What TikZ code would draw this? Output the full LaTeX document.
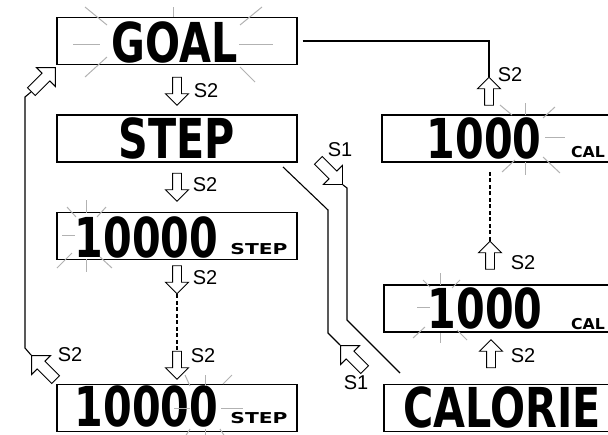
\documentclass[tikz,border=0pt]{standalone}
\usepackage{fontspec}
\usepackage{tikz}
\usetikzlibrary{shapes.arrows}
\newfontfamily\lcdfont[FakeStretch=0.75]{DejaVu Sans}
\newfontfamily\unitfont[FakeStretch=1.35]{DejaVu Sans}
\newfontfamily\calfont[FakeStretch=1.05]{DejaVu Sans}
\newfontfamily\keyfont{Liberation Sans}

\tikzset{
    lcdbox/.style={draw, line width=1.3pt, minimum width=240pt, minimum height=47pt, inner sep=0pt},
    lcdtext/.style={inner sep=0pt, font=\lcdfont\bfseries\fontsize{55}{55}\selectfont},
    unittext/.style={inner sep=0pt, font=\unitfont\bfseries\fontsize{15}{15}\selectfont},
    caltext/.style={unittext, font=\calfont\bfseries\fontsize{15}{15}\selectfont},
    keylabel/.style={inner sep=0pt, font=\keyfont\fontsize{20}{20}\selectfont},
    keyarrow/.style={single arrow, draw, fill=white, line width=0.9pt, inner sep=4pt, minimum height=28pt, single arrow head extend=7pt, single arrow head indent=0pt},
    bigarrow/.style={keyarrow, inner sep=5pt, minimum height=34pt, single arrow head extend=8pt},
    link/.style={black, line width=1.1pt},
    dashlink/.style={link, dash pattern=on 4pt off 2.5pt},
    blink/.style={gray!60, line width=1pt}
}

\begin{document}
\begin{tikzpicture}[x=1pt, y=-1pt]
\useasboundingbox (0,0) rectangle (608,434);
% displays, left column
\node[lcdbox] (Goal) at (177,41) {};
\node[lcdbox] (Step) at (177,138.5) {};
\node[lcdbox] (StepSet) at (177,236) {};
\node[lcdbox] (StepEnd) at (177,408) {};
% displays, right column
\node[lcdbox] (CalSet) at (502,138.5) {};
\node[lcdbox] (CalStart) at (504,308.5) {};
\node[lcdbox] (Calorie) at (504,408) {};
% display texts
\node[lcdtext] (GoalText) at (175,42.5) {GOAL};
\node[lcdtext] (StepText) at (176.5,138) {STEP};
\node[lcdtext] (StepNum) at (146.5,237) {10000};
\node[unittext] (StepUnit) at (259,249) {STEP};
\node[lcdtext] (StepNumEnd) at (146.5,406) {10000};
\node[unittext] (StepUnitEnd) at (259,418) {STEP};
\node[lcdtext] (CalNum) at (484,138) {1000};
\node[caltext] (CalUnit) at (588,152) {CAL};
\node[lcdtext] (CalNumStart) at (485,308) {1000};
\node[caltext] (CalUnitStart) at (588,324) {CAL};
\node[lcdtext, anchor=west] (CalorieText) at (403,407) {CALORIE};
% blinking digits
\foreach \a/\b/\c/\d in {173/7/173/17, 85/7/107/25, 262/7/240/25, 73/44/100/44, 239/44/273/44, 85/77/107/57, 255/82/240/67}
    \draw[blink] (\a,\b) -- (\c,\d);
\foreach \a/\b/\c/\d in {86/200/86/213, 67/207/76/217, 106/207/97/217, 62/235/75/235, 57/268/72/253, 86/259/86/272, 112/268/100/257}
    \draw[blink] (\a,\b) -- (\c,\d);
\foreach \a/\b/\c/\d in {205/375/205/386, 185/375/190/386, 232/375/223/384, 174/408/190/408, 221/408/243/408, 183/440/190/429, 205/429/205/440, 227/440/220/429}
    \draw[blink] (\a,\b) -- (\c,\d);
\foreach \a/\b/\c/\d in {525/103/525/115, 500/105/512/115, 555/107/543/118, 545/137/565/137, 543/157/560/173, 525/162/525/175, 515/160/502/172}
    \draw[blink] (\a,\b) -- (\c,\d);
\foreach \a/\b/\c/\d in {440/273/440/285, 423/280/430/287, 460/280/452/288, 417/307/430/307, 413/338/425/327, 440/333/440/343, 467/340/457/330}
    \draw[blink] (\a,\b) -- (\c,\d);
% key arrows, step side
\node[keyarrow, rotate=-90] (Down1) at (177,89) {};
\node[keyarrow, rotate=-90] (Down2) at (177,185) {};
\node[keyarrow, rotate=-90] (Down3) at (177,277.5) {};
\node[keyarrow, rotate=-90] (Down4) at (177,363) {};
\node[bigarrow, rotate=135] (BackUp) at (45.5,369.5) {};
\node[bigarrow, rotate=45] (BackIn) at (41.5,81.5) {};
% key arrows, calorie side
\node[keyarrow, rotate=90] (Up1) at (491,356) {};
\node[keyarrow, rotate=90] (Up2) at (490,257.5) {};
\node[keyarrow, rotate=90] (Up3) at (489,93.5) {};
\node[bigarrow, rotate=-45] (ToCal) at (328.5,170.5) {};
\node[bigarrow, rotate=135] (ToStep) at (354.5,359.5) {};
% key labels
\node[keylabel] (LDown1) at (206,91) {S2};
\node[keylabel] (LDown2) at (205,185) {S2};
\node[keylabel] (LDown3) at (205,278) {S2};
\node[keylabel] (LDown4) at (203,356) {S2};
\node[keylabel] (LBack) at (70,355) {S2};
\node[keylabel] (LUp1) at (523,356) {S2};
\node[keylabel] (LUp2) at (523,263) {S2};
\node[keylabel] (LUp3) at (510,75) {S2};
\node[keylabel] (LToCal) at (340,150) {S1};
\node[keylabel] (LToStep) at (356,383) {S1};
% connectors
\coordinate (BackLow) at (25,348);
\coordinate (BackHigh) at (25,97);
\coordinate (DashTop) at (490,170);
\coordinate (StepOut) at (283,167);
\coordinate (StepBend1) at (328,210);
\coordinate (StepBend2) at (328,333);
\coordinate (CalBend1) at (347,188);
\coordinate (CalBend2) at (347,320);
\coordinate (CalIn) at (400,373);
\draw[link] (BackUp.tip) -- (BackLow) -- (BackHigh) -- (BackIn.tail);
\draw[dashlink] (Down3.tip) -- (Down4.tail);
\draw[dashlink] (Up2.tip) -- (DashTop);
\draw[link] ([xshift=5pt]Goal.east) -- (Up3.tip |- Goal.east) -- (Up3.tip);
\draw[link] (ToCal.tip) -- (CalBend1) -- (CalBend2) -- (CalIn);
\draw[link] (StepOut) -- (StepBend1) -- (StepBend2) -- (ToStep.tip);
\end{tikzpicture}
\end{document}
